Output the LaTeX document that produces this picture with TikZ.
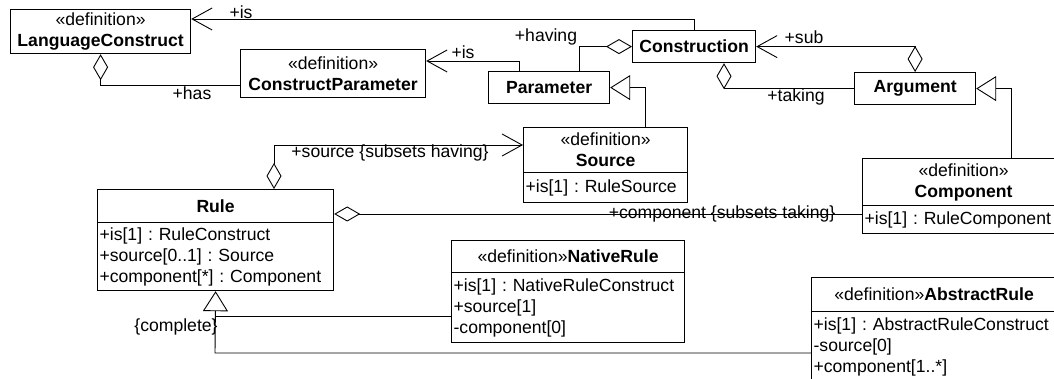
\documentclass[tikz,border=0pt]{standalone}
\usepackage{fontspec}
\setmainfont{Liberation Sans}
\usetikzlibrary{arrows.meta}
\frenchspacing

\tikzset{
    diam/.tip={Diamond[open,length=26pt,width=15pt]},
    barb/.tip={Straight Barb[length=20pt,width=22pt]},
    tri/.tip={Triangle[open,length=20pt,width=25pt]},
    classbox/.style={draw, line width=1.2pt, anchor=north west, inner sep=0pt, align=center},
    attrbox/.style={draw, line width=1.2pt, anchor=north west, inner xsep=2pt, inner ysep=0pt, align=left},
    assoc/.style={line width=0.9pt},
    lbl/.style={inner sep=0pt}
}

\begin{document}
\begin{tikzpicture}[x=1pt, y=-1pt, font=\fontsize{17.6}{21}\selectfont]
    \useasboundingbox (0,0) rectangle (1054,379);

    \node[classbox, minimum width=180pt, minimum height=44pt] (LC) at (10,9) {«definition»\\\textbf{LanguageConstruct}};
    \node[classbox, minimum width=185pt, minimum height=48pt] (CP) at (240,49) {«definition»\\\textbf{ConstructParameter}};
    \node[classbox, minimum width=121pt, minimum height=32pt] (Param) at (488,71) {\textbf{Parameter}};
    \node[classbox, minimum width=123pt, minimum height=32pt] (Constr) at (632,30) {\textbf{Construction}};
    \node[classbox, minimum width=121pt, minimum height=32pt] (Arg) at (854,72) {\textbf{Argument}};

    \node[classbox, minimum width=164pt, minimum height=45pt] (Source-t) at (523,127) {«definition»\\\textbf{Source}};
    \node[attrbox, text width=160pt, minimum height=30pt] (Source-a) at (523,172) {+is[1] : RuleSource};

    \node[classbox, minimum width=202pt, minimum height=47pt] (Comp-t) at (862,158) {«definition»\\\textbf{Component}};
    \node[attrbox, text width=198pt, minimum height=28pt] (Comp-a) at (862,205) {+is[1] : RuleComponent};

    \node[classbox, minimum width=236pt, minimum height=33pt] (Rule-t) at (97,189) {\textbf{Rule}};
    \node[attrbox, text width=232pt, minimum height=68pt] (Rule-a) at (97,222)
        {+is[1] : RuleConstruct\\+source[0..1] : Source\\+component[*] : Component};

    \node[classbox, minimum width=233pt, minimum height=32pt] (Native-t) at (451,240) {«definition»\textbf{NativeRule}};
    \node[attrbox, text width=229pt, minimum height=70pt] (Native-a) at (451,272)
        {+is[1] : NativeRuleConstruct\\+source[1]\\-component[0]};

    \node[classbox, minimum width=245pt, minimum height=34pt] (Abstract-t) at (811,277) {«definition»\textbf{AbstractRule}};
    \node[attrbox, text width=241pt, minimum height=70pt] (Abstract-a) at (811,311)
        {+is[1] : AbstractRuleConstruct\\-source[0]\\+component[1..*]};

    \draw[assoc, -barb] (Constr.north) |- (LC.east |- 0,19);
    \draw[assoc, -barb] (Param.north -| 519,0) |- (CP.east |- 0,61);
    \draw[assoc, diam-] (Constr.west) -| (Param.north -| 579,0);
    \draw[assoc, diam-barb] (Arg.north) |- (Constr.east);
    \draw[assoc, diam-] (Constr.south -| 724,0) |- (Arg.west);
    \draw[assoc, diam-] (LC.south) |- (CP.west |- 0,85);
    \draw[assoc, tri-] (Param.east) -| (Source-t.north -| 645,0);
    \draw[assoc, tri-] (Arg.east) -| (Comp-t.north -| 1011,0);
    \draw[assoc, diam-barb] (Rule-t.north -| 274,0) |- (Source-t.west |- 0,145);
    \draw[assoc, diam-] (Rule-t.east |- 0,214) -- (Comp-a.west |- 0,214);

    \coordinate (gsplit) at (215,316);
    \coordinate (gbend) at (215,353);
    \draw[assoc, tri-] (Rule-a.south) -- (gbend) -- (Abstract-a.west |- gbend);
    \draw[assoc] (gsplit) -- (Native-a.west |- gsplit);

    \node[lbl] (lisC) at (241,12) {+is};
    \node[lbl] (lisP) at (463,52) {+is};
    \node[lbl] (lhaving) at (546,37) {+having};
    \node[lbl] (lsub) at (804,37) {+sub};
    \node[lbl] (ltaking) at (796,97) {+taking};
    \node[lbl] (lhas) at (192,93) {+has};
    \node[lbl] (lsource) at (390,153) {+source \{subsets having\}};
    \node[lbl, anchor=base] (lcomp) at (722,219) {+component \{subsets taking\}};
    \node[lbl] (lcomplete) at (176,327) {\{complete\}};
\end{tikzpicture}
\end{document}
